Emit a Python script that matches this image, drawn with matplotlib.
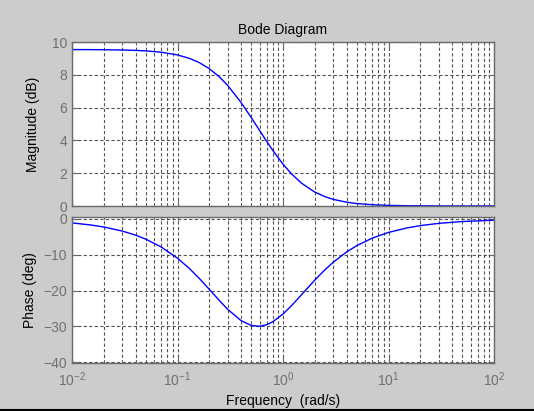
import numpy as np
import matplotlib.pyplot as plt
from matplotlib.lines import Line2D
from matplotlib.ticker import LogLocator, NullFormatter

plt.rcParams['font.family'] = ['Liberation Sans', 'DejaVu Sans']

# values
freq = [0.01, 0.015, 0.02, 0.03, 0.04, 0.05, 0.07, 0.1, 0.13, 0.16, 0.2, 0.25,
        0.3, 0.4, 0.5, 0.6, 0.7, 0.8, 1.0, 1.2, 1.5, 2, 2.5, 3, 4, 5, 7, 10,
        15, 20, 30, 50, 100]
mag_db = [9.539, 9.535, 9.529, 9.512, 9.488, 9.457, 9.377, 9.211, 9.000, 8.752,
          8.377, 7.868, 7.340, 6.313, 5.393, 4.604, 3.943, 3.391, 2.553, 1.968,
          1.388, 0.850, 0.568, 0.404, 0.233, 0.151, 0.078, 0.038, 0.017, 0.010,
          0.004, 0.0015, 0.0004]
phase_deg = [-1.145, -1.717, -2.288, -3.425, -4.552, -5.669, -7.856, -10.988,
             -13.897, -16.551, -19.654, -22.834, -25.288, -28.393, -29.745,
             -29.981, -29.545, -28.720, -26.565, -24.282, -21.161, -17.103,
             -14.206, -12.095, -9.272, -7.496, -5.404, -3.802, -2.541, -1.907,
             -1.272, -0.764, -0.382]
mag_ticks = [0, 2, 4, 6, 8, 10]
phase_ticks = [-40, -30, -20, -10, 0]

W, H = 534, 411
fig = plt.figure(figsize=(W / 100, H / 100), dpi=100, facecolor='#cccccc')
ax1 = fig.add_axes([72 / W, 1 - 206 / H, 422 / W, 164 / H])
ax2 = fig.add_axes([72 / W, 1 - 363.3 / H, 422 / W, 146.3 / H])

gridc = '#555555'
for ax in (ax1, ax2):
    ax.set_xscale('log')
    ax.set_xlim(1e-2, 1e2)
    ax.xaxis.set_major_locator(LogLocator(base=10, numticks=10))
    ax.xaxis.set_minor_locator(LogLocator(base=10, subs=np.arange(2, 10), numticks=10))
    ax.xaxis.set_minor_formatter(NullFormatter())
    ax.grid(True, which='major', axis='both', color=gridc, linestyle=(0, (3, 2)), linewidth=0.8)
    ax.grid(True, which='minor', axis='x', color=gridc, linestyle=(0, (3, 2)), linewidth=0.8)
    ax.tick_params(which='both', direction='in', top=True, right=True,
                   colors='#6a6a6a', labelcolor='#707070', labelsize=10)
    ax.tick_params(which='major', length=4)
    ax.tick_params(which='minor', length=2.5)
    for s in ax.spines.values():
        s.set_color('#6a6a6a')
        s.set_linewidth(1)
    ax.set_axisbelow(True)

ax1.plot(freq, mag_db, color='#0000ff', linewidth=1)
ax1.set_ylim(0, 10)
ax1.set_yticks(mag_ticks)
ax1.tick_params(axis='x', labelbottom=False)
ax1.set_ylabel('Magnitude (dB)', fontsize=10)
ax1.yaxis.set_label_coords(-0.076, 0.5)
ax1.set_title('Bode Diagram', fontsize=10, pad=6)

ax2.plot(freq, phase_deg, color='#0000ff', linewidth=1)
ax2.set_ylim(-40.3, 0.5)
ax2.set_yticks(phase_ticks)
ax2.set_ylabel('Phase (deg)', fontsize=10)
ax2.yaxis.set_label_coords(-0.083, 0.5)
ax2.set_xlabel('Frequency  (rad/s)', fontsize=10)
ax2.xaxis.set_label_coords(0.5, -0.212)
ax2.tick_params(axis='x', pad=5)

fig.add_artist(Line2D([0, 1], [0.8 / H, 0.8 / H], color='black', linewidth=1.5))

fig.savefig('out.png', dpi=100, facecolor=fig.get_facecolor())
